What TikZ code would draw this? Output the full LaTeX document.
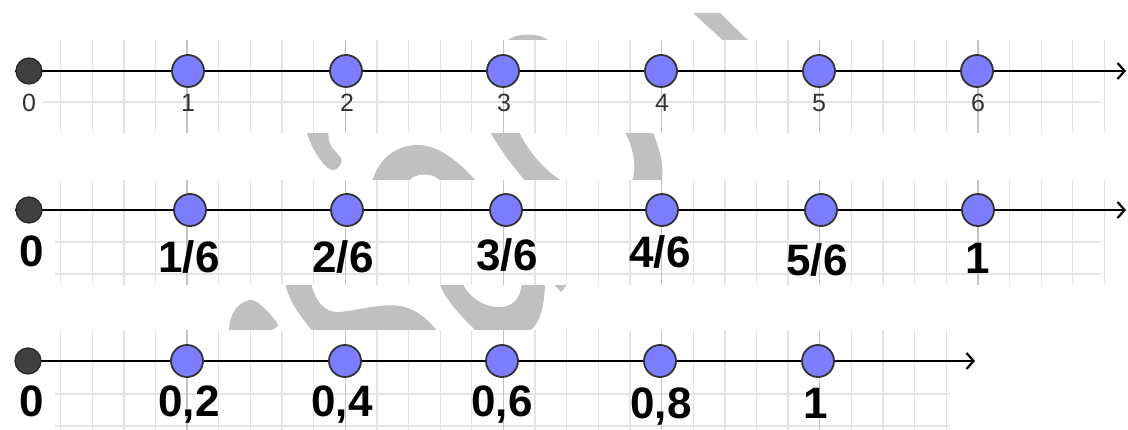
\documentclass[tikz,border=0pt]{standalone}
\usepackage{fontspec}
\setmainfont{Liberation Sans}
\usetikzlibrary{arrows.meta}
\definecolor{ptblue}{RGB}{125,125,255}
\definecolor{wm}{RGB}{192,192,192}
\definecolor{gminor}{RGB}{228,228,228}
\definecolor{gmajor}{RGB}{195,195,195}
\begin{document}
\begin{tikzpicture}[x=1pt,y=-1pt,
  bpt/.style={circle,fill=ptblue,draw=black!80,line width=1.8pt,minimum size=32pt,inner sep=0pt},
  opt/.style={circle,fill=black!75,draw=black!85,line width=1.2pt,minimum size=26pt,inner sep=0pt},
  axisline/.style={line width=2.8pt,-{Straight Barb[length=7pt,width=16pt,line width=2.2pt]}},
  smalllab/.style={anchor=base,inner sep=0pt,font=\fontsize{25}{25}\selectfont,text=black!80},
  biglab/.style={anchor=base,inner sep=0pt,font=\fontsize{44}{44}\selectfont\bfseries,text=black},
  minorline/.style={draw=gminor,line width=1.3pt},
  majorline/.style={draw=gmajor,line width=1.4pt},
  wmark/.style={fill=wm,draw=none}]
\useasboundingbox (0,0) rectangle (1128,430);
\fill[white] (0,0) rectangle (1128,430);
% watermark
\path[wmark] (693,13) -- (720,13) -- (753,45) -- (728,45) -- cycle;
\path[wmark] (503,45) .. controls (512,31) and (544,31) .. (553,45) -- cycle;
\path[wmark] (306,130) -- (329,130) .. controls (326,145) and (335,150) .. (341,158) .. controls (344,163) and (336,172) .. (331,170) .. controls (322,165) and (312,150) .. (306,130) -- cycle;
\path[wmark] (372,182) .. controls (378,160) and (395,145) .. (418,145) .. controls (440,145) and (462,165) .. (477,182) -- (441,182) .. controls (435,172) and (414,172) .. (408,182) -- cycle;
\path[wmark] (489,130) -- (518,130) .. controls (530,155) and (545,170) .. (563,182) -- (526,182) .. controls (512,165) and (500,150) .. (489,130) -- cycle;
\path[wmark] (624,130) -- (652,130) .. controls (660,150) and (664,165) .. (662,182) -- (632,182) .. controls (637,165) and (634,150) .. (624,130) -- cycle;
\path[wmark] (229,332) .. controls (229,312) and (240,300) .. (252,300) .. controls (258,300) and (275,318) .. (278,325) .. controls (276,330) and (265,332) .. (262,332) -- cycle;
\path[wmark] (285,280) -- (311,280) .. controls (313,300) and (325,313) .. (339,312) .. controls (355,311) and (380,303) .. (400,306) .. controls (418,309) and (430,322) .. (438,332) -- (313,332) .. controls (300,315) and (287,300) .. (285,280) -- cycle;
\path[wmark] (438,280) -- (461,280) .. controls (468,298) and (485,308) .. (502,307) .. controls (515,306) and (522,295) .. (522,280) -- (545,280) .. controls (545,305) and (540,325) .. (528,332) -- (477,332) .. controls (460,315) and (445,300) .. (438,280) -- cycle;
\path[wmark] (550,280) -- (571,280) -- (561,292) -- cycle;
% white bands
\fill[white] (0,40) rectangle (1128,133);
\fill[white] (0,180) rectangle (1128,285);
\fill[white] (0,330) rectangle (990,430);
% grids
\foreach \k in {1,...,34} {\draw[minorline] ({29+31.63*\k},40) -- ({29+31.63*\k},133);
  \draw[minorline] ({29+31.63*\k},180) -- ({29+31.63*\k},285);}
\foreach \k in {1,...,29} {\draw[minorline] ({29+31.63*\k},330) -- ({29+31.63*\k},430);}
\draw[minorline] (43,102) -- (1100,102);
\draw[minorline] (55,242) -- (1100,242);
\draw[minorline] (55,274) -- (1100,274);
\draw[minorline] (55,394) -- (950,394);
\draw[minorline] (55,426) -- (950,426);
\foreach \k in {5,10,...,30} {\draw[majorline] ({29+31.63*\k},40) -- ({29+31.63*\k},133);
  \draw[majorline] ({29+31.63*\k},180) -- ({29+31.63*\k},285);}
\foreach \k in {5,10,...,25} {\draw[majorline] ({29+31.63*\k},330) -- ({29+31.63*\k},430);}
% row 1
\coordinate (s1) at (15,71);
\coordinate (e1) at (1126,71);
\draw[axisline] (s1) -- (e1);
\node[opt] (a0) at (29,71) {};
\node[bpt] (a1) at (188,71) {};
\node[bpt] (a2) at (346,71) {};
\node[bpt] (a3) at (503,71) {};
\node[bpt] (a4) at (661,71) {};
\node[bpt] (a5) at (819,71) {};
\node[bpt] (a6) at (977,71) {};
\node[smalllab] (la0) at (29,112) {0};
\node[smalllab] (la1) at (188,112) {1};
\node[smalllab] (la2) at (347,112) {2};
\node[smalllab] (la3) at (504,112) {3};
\node[smalllab] (la4) at (662,112) {4};
\node[smalllab] (la5) at (819,112) {5};
\node[smalllab] (la6) at (978,112) {6};
% row 2
\coordinate (s2) at (15,210);
\coordinate (e2) at (1126,210);
\draw[axisline] (s2) -- (e2);
\node[opt] (b0) at (29,210) {};
\node[bpt] (b1) at (190,210) {};
\node[bpt] (b2) at (347,210) {};
\node[bpt] (b3) at (506,210) {};
\node[bpt] (b4) at (662,210) {};
\node[bpt] (b5) at (821,210) {};
\node[bpt] (b6) at (978,210) {};
\node[biglab] (lb0) at (32,267) {0};
\node[biglab] (lb1) at (189,273) {1/6};
\node[biglab] (lb2) at (343,273) {2/6};
\node[biglab] (lb3) at (507,271) {3/6};
\node[biglab] (lb4) at (660,268) {4/6};
\node[biglab] (lb5) at (817,276) {5/6};
\node[biglab] (lb6) at (978,274) {1};
% row 3
\coordinate (s3) at (15,361);
\coordinate (e3) at (975,361);
\draw[axisline] (s3) -- (e3);
\node[opt] (c0) at (28,361) {};
\node[bpt] (c1) at (187,361) {};
\node[bpt] (c2) at (345,361) {};
\node[bpt] (c3) at (502,361) {};
\node[bpt] (c4) at (660,361) {};
\node[bpt] (c5) at (818,361) {};
\node[biglab] (lc0) at (32,417) {0};
\node[biglab] (lc1) at (189,417) {0,2};
\node[biglab] (lc2) at (342,417) {0,4};
\node[biglab] (lc3) at (502,417) {0,6};
\node[biglab] (lc4) at (661,418) {0,8};
\node[biglab] (lc5) at (816,419) {1};
\end{tikzpicture}
\end{document}
